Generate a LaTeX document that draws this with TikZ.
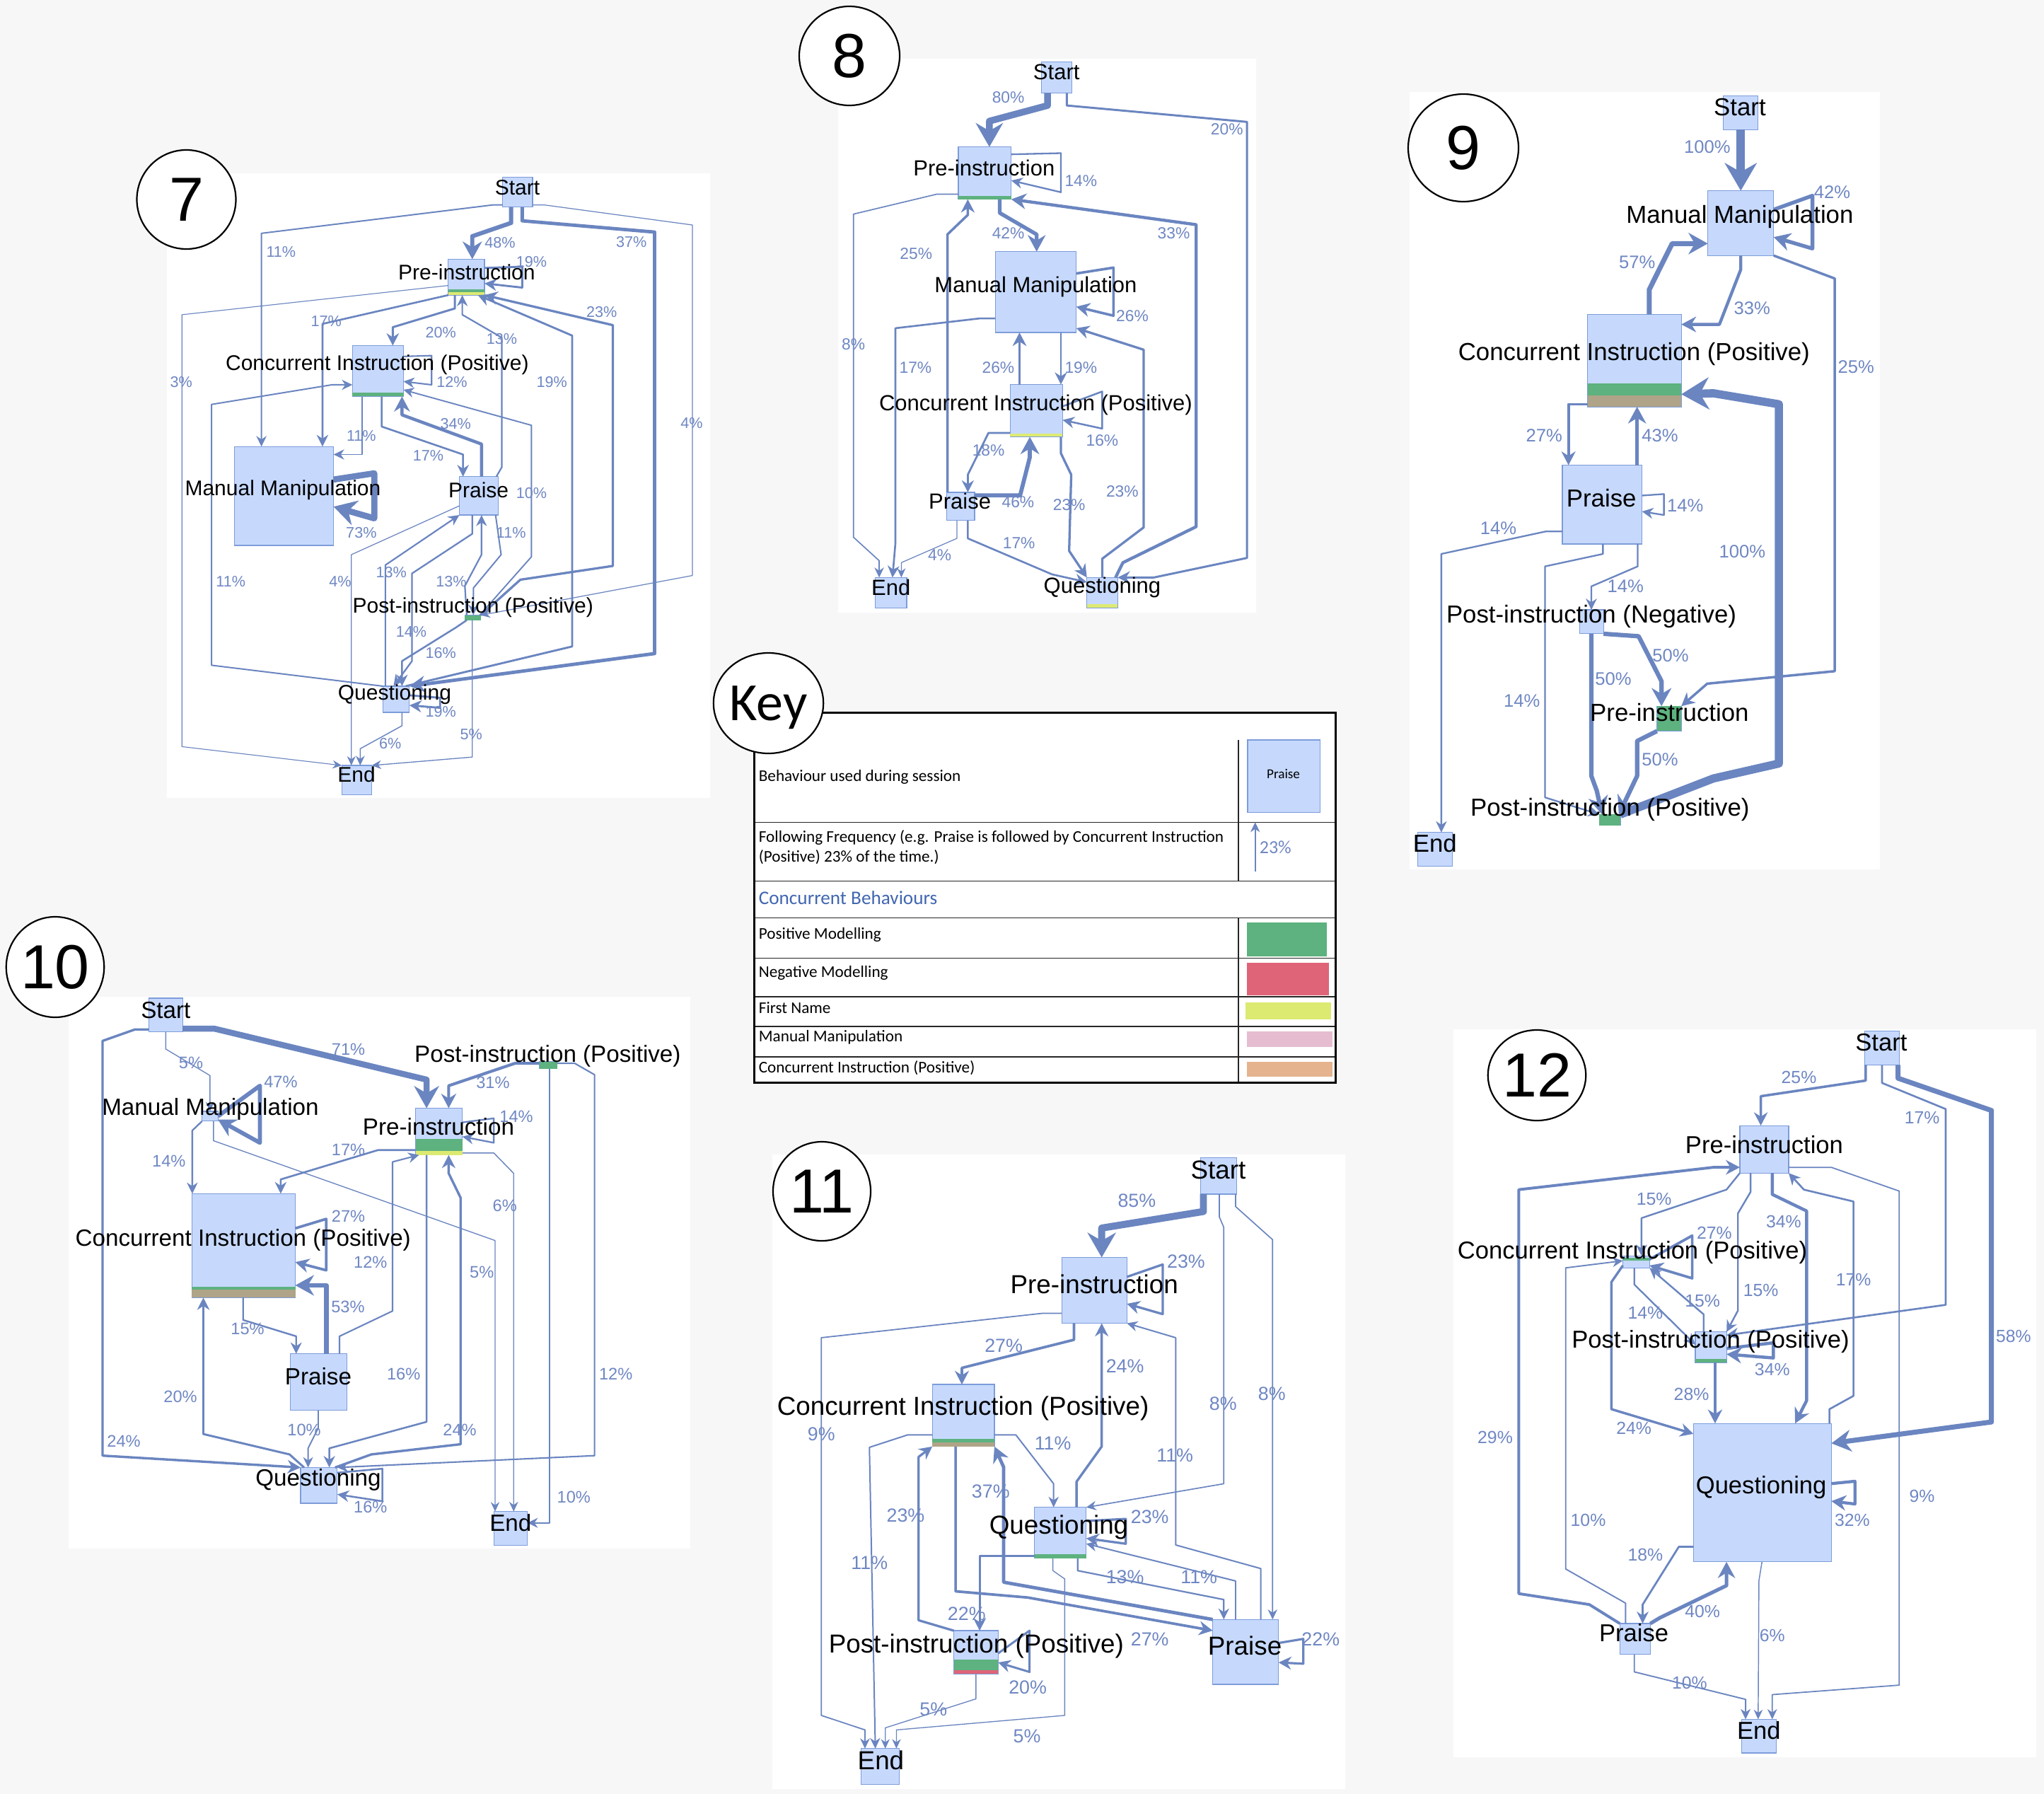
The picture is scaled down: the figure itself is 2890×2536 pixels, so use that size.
\documentclass[tikz,border=0pt]{standalone}
\usepackage{fontspec}
\setmainfont{Liberation Sans}
\newfontfamily\keyfont{Carlito}
\usetikzlibrary{arrows.meta,shapes.geometric}
\definecolor{bgc}{HTML}{F7F7F7}
\definecolor{boxfill}{HTML}{C6D9FD}
\definecolor{boxline}{HTML}{7D9CD9}
\definecolor{edgec}{HTML}{6A85C0}
\definecolor{pctc}{HTML}{6F87C3}
\definecolor{posmod}{HTML}{5DB27F}
\definecolor{negmod}{HTML}{DF6478}
\definecolor{fname}{HTML}{DDEA72}
\definecolor{mmpink}{HTML}{E6BDD0}
\definecolor{citan}{HTML}{E5B38E}
\definecolor{citanmix}{HTML}{AFA487}
\definecolor{keyblue}{HTML}{4166B0}

% behaviour box given by its corners (x1,y1,x2,y2) in the local grid
\newcommand\mkbox[5]{\node[box,minimum width={(#4-#2)*\sx*1pt},minimum height={(#5-#3)*\sy*1pt}] (#1) at ({(#2+#4)/2},{(#3+#5)/2}) {};}
% coloured band across a box between two heights
\newcommand\mkband[4]{\fill[#2] (#1.west |- 0,#3) rectangle (#1.east |- 0,#4);}
% plain colour swatch
\newcommand\mksw[6]{\node[fill=#2,inner sep=0pt,outer sep=0pt,minimum width={(#5-#3)*\sx*1pt},minimum height={(#6-#4)*\sy*1pt}] (#1) at ({(#3+#5)/2},{(#4+#6)/2}) {};}
\newcounter{pcn}
\newcommand\pctlbl[3]{\stepcounter{pcn}\node[pct] (pct\arabic{pcn}) at (#1,#2) {#3\%};}
\newcommand\boxlbl[4]{\node[lab] (#1) at (#2,#3) {#4};}

\tikzset{
  box/.style={draw=boxline,fill=boxfill,line width=0.3pt,inner sep=0pt,outer sep=0pt},
  conn/.style={draw=edgec,line join=round,-{Stealth[length=2.5pt 2.5,width=2pt 3.2]}},
  pw/.style={line width={(0.2+0.027*#1)*1pt}},
  lab/.style={inner sep=0pt,text=black},
  pct/.style={inner sep=0pt,text=pctc},
  keyt/.style={inner sep=0pt,anchor=west,text=black,font=\keyfont\fontsize{5.8}{7}\selectfont},
  numc/.style={ellipse,draw=black,fill=white,line width=0.55pt,inner sep=0pt,font=\fontsize{22}{22}\selectfont},
  panel/.style={fill=white},
}

\begin{document}
\begin{tikzpicture}[x=0.25pt,y=-0.25pt]
\fill[bgc] (0,0) rectangle (2890,2536);
\useasboundingbox (0,0) rectangle (2890,2536);

% white panels behind the six session graphs
\fill[panel] (236,245) rectangle (1004,1128);
\fill[panel] (1185,83) rectangle (1776,866);
\fill[panel] (1993,130) rectangle (2658,1229);
\fill[panel] (97,1409) rectangle (976,2189);
\fill[panel] (1092,1632) rectangle (1902,2529);
\fill[panel] (2055,1455) rectangle (2879,2484);

% ---------------- Session 7 ----------------
\begin{scope}[shift={(184,203)},xscale=0.52296,yscale=0.58992,
  lab/.append style={font=\fontsize{7.5}{9}\selectfont},
  pct/.append style={font=\fontsize{5.4}{6.5}\selectfont}]
\def\sx{0.13074}\def\sy{0.14748}
\mkbox{s7}{1007}{80}{1088}{152}
\mkbox{p7}{860}{277}{958}{363} \mkband{p7}{posmod}{349}{356} \mkband{p7}{fname}{356}{363}
\mkbox{c7}{601}{484}{739}{606} \mkband{c7}{posmod}{597}{606}
\mkbox{m7}{282}{726}{550}{963}
\mkbox{r7}{890}{798}{996}{890}
\mkbox{o7}{905}{1130}{948}{1142} \mkband{o7}{posmod}{1130}{1142}
\mkbox{q7}{683}{1300}{755}{1363}
\mkbox{e7}{572}{1490}{653}{1560}

\draw[conn,pw=48] (s7.south -| 1030,0) -- (1030,190) -- (925,222) -- (p7.north -| 925,0);
\draw[conn,pw=37] (s7.south -| 1060,0) -- (1060,185) -- (1418,212) -- (1418,1222) -- (q7.north east);
\draw[conn,pw=11] (s7.west |- 0,147) -- (980,147) -- (355,215) -- (m7.north -| 355,0);
\draw[conn,pw=4] (s7.east |- 0,147) -- (1120,147) -- (1520,195) -- (1520,1035) -- (o7.north east);
\draw[conn,pw=3] (p7.west |- 0,340) -- (140,410) -- (140,1445) -- (e7.north west);
\draw[conn,pw=19] (p7.east |- 0,298) -- (1060,295) -- (1060,345) -- (p7.east |- 0,335);
\draw[conn,pw=17] (p7.south west) -- (520,432) -- (m7.north -| 520,0);
\draw[conn,pw=20] (p7.south -| 878,0) -- (878,395) -- (710,440) -- (c7.north -| 710,0);
\draw[conn,pw=13] (r7.north -| 990,0) -- (1005,775) -- (1005,465) -- (898,410) -- (p7.south -| 898,0);
\draw[conn,pw=19] (q7.north -| 745,0) -- (1195,1205) -- (1195,460) -- (p7.south -| 940,0);
\draw[conn,pw=23] (o7.north east) -- (1055,1045) -- (1305,1012) -- (1305,435) -- (p7.south east);
\draw[conn,pw=12] (c7.east |- 0,510) -- (815,508) -- (815,578) -- (c7.east |- 0,570);
\draw[conn,pw=11] (c7.south -| 627,0) -- (627,745) -- (m7.east |- 0,745);
\draw[conn,pw=17] (c7.south -| 680,0) -- (680,678) -- (900,745) -- (r7.north -| 900,0);
\draw[conn,pw=34] (r7.north -| 950,0) -- (950,720) -- (735,650) -- (c7.south -| 735,0);
\draw[conn,pw=73] (m7.east |- 0,805) -- (660,790) -- (660,898) -- (m7.east |- 0,870);
\draw[conn,pw=10] (o7.north -| 945,0) -- (1085,990) -- (1085,675) -- (c7.east |- 0,590);
\draw[conn,pw=11] (q7.north west) -- (220,1250) -- (220,625) -- (545,578) -- (c7.west |- 0,578);
\draw[conn,pw=4] (r7.west |- 0,868) -- (598,985) -- (e7.north -| 598,0);
\draw[conn,pw=13] (q7.north -| 690,0) -- (690,1010) -- (r7.south west);
\draw[conn,pw=14] (r7.south -| 925,0) -- (925,935) -- (762,1030) -- (762,1240) -- (q7.north -| 712,0);
\draw[conn,pw=13] (o7.north -| 910,0) -- (905,1060) -- (950,985) -- (r7.south -| 950,0);
\draw[conn,pw=11] (r7.south -| 988,0) -- (1003,985) -- (928,1065) -- (o7.north -| 928,0);
\draw[conn,pw=16] (o7.south -| 910,0) -- (880,1160) -- (735,1240) -- (q7.north -| 735,0);
\draw[conn,pw=19] (q7.east |- 0,1322) -- (838,1328) -- (838,1352) -- (q7.east |- 0,1346);
\draw[conn,pw=6] (q7.south -| 735,0) -- (735,1395) -- (622,1450) -- (e7.north -| 622,0);
\draw[conn,pw=5] (o7.south -| 925,0) -- (925,1470) -- (e7.north east);

\pctlbl{1000}{237}{48} \pctlbl{1355}{235}{37} \pctlbl{408}{260}{11} \pctlbl{1518}{670}{4}
\pctlbl{138}{572}{3} \pctlbl{1085}{283}{19} \pctlbl{530}{425}{17} \pctlbl{840}{452}{20}
\pctlbl{1005}{468}{13} \pctlbl{1140}{572}{19} \pctlbl{1275}{403}{23} \pctlbl{870}{572}{12}
\pctlbl{625}{700}{11} \pctlbl{806}{748}{17} \pctlbl{880}{672}{34} \pctlbl{625}{932}{73}
\pctlbl{1085}{838}{10} \pctlbl{272}{1050}{11} \pctlbl{568}{1050}{4} \pctlbl{706}{1027}{13}
\pctlbl{760}{1170}{14} \pctlbl{868}{1050}{13} \pctlbl{1030}{932}{11} \pctlbl{840}{1220}{16}
\pctlbl{840}{1362}{19} \pctlbl{703}{1437}{6} \pctlbl{922}{1415}{5}

\boxlbl{s7t}{1047}{105}{Start}
\boxlbl{p7t}{910}{308}{Pre-instruction}
\boxlbl{c7t}{668}{530}{Concurrent Instruction (Positive)}
\boxlbl{m7t}{413}{830}{Manual Manipulation}
\boxlbl{r7t}{942}{830}{Praise}
\boxlbl{o7t}{927}{1112}{Post-instruction (Positive)}
\boxlbl{q7t}{715}{1320}{Questioning}
\boxlbl{e7t}{612}{1512}{End}
\end{scope}

% ---------------- Session 8 ----------------
\begin{scope}[shift={(1124,0)},xscale=0.41773,yscale=0.55230,
  lab/.append style={font=\fontsize{7.75}{9}\selectfont},
  pct/.append style={font=\fontsize{5.7}{7}\selectfont}]
\def\sx{0.10443}\def\sy{0.13808}
\mkbox{s8}{835}{158}{938}{238}
\mkbox{p8}{553}{376}{732}{510} \mkband{p8}{posmod}{502}{510}
\mkbox{m8}{678}{644}{952}{851}
\mkbox{c8}{728}{984}{906}{1118} \mkband{c8}{fname}{1110}{1118}
\mkbox{r8}{514}{1260}{608}{1332}
\mkbox{e8}{272}{1478}{378}{1556}
\mkbox{q8}{988}{1478}{1092}{1556} \mkband{q8}{fname}{1546}{1556}

\draw[conn,pw=80] (s8.south -| 855,0) -- (855,270) -- (658,310) -- (p8.north -| 658,0);
\draw[conn,pw=20] (s8.south -| 920,0) -- (920,270) -- (1530,312) -- (1530,1428) -- (1215,1478) -- (q8.north east);
\draw[conn,pw=14] (p8.east |- 0,395) -- (900,392) -- (900,492) -- (p8.east |- 0,462);
\draw[conn,pw=42] (p8.south -| 693,0) -- (693,545) -- (818,600) -- (m8.north -| 818,0);
\draw[conn,pw=8] (p8.west |- 0,497) -- (480,497) -- (198,548) -- (198,1375) -- (285,1435) -- (e8.north -| 285,0);
\draw[conn,pw=25] (r8.north -| 516,0) -- (516,600) -- (585,550) -- (p8.south -| 585,0);
\draw[conn,pw=33] (q8.north -| 1085,0) -- (1110,1440) -- (1358,1348) -- (1358,575) -- (p8.south east);
\draw[conn,pw=26] (m8.east |- 0,700) -- (1078,685) -- (1078,808) -- (m8.east |- 0,785);
\draw[conn,pw=17] (m8.west |- 0,815) -- (625,815) -- (340,840) -- (340,1390) -- (e8.north -| 330,0);
\draw[conn,pw=26] (c8.north -| 760,0) -- (m8.south -| 760,0);
\draw[conn,pw=19] (m8.south -| 900,0) -- (c8.north -| 900,0);
\draw[conn,pw=16] (c8.east |- 0,1040) -- (1040,1002) -- (1040,1097) -- (c8.east |- 0,1075);
\draw[conn,pw=18] (c8.west |- 0,1108) -- (655,1108) -- (585,1215) -- (r8.north -| 585,0);
\draw[conn,pw=46] (r8.east |- 0,1268) -- (762,1268) -- (795,1170) -- (c8.south -| 795,0);
\draw[conn,pw=23] (c8.south -| 900,0) -- (900,1160) -- (935,1215) -- (928,1410) -- (q8.north west);
\draw[conn,pw=23] (q8.north -| 1040,0) -- (1040,1430) -- (1180,1350) -- (1180,895) -- (m8.east |- 0,840);
\draw[conn,pw=17] (r8.south -| 585,0) -- (585,1378) -- (870,1470) -- (q8.west |- 0,1490);
\draw[conn,pw=4] (r8.south -| 548,0) -- (548,1378) -- (360,1440) -- (e8.north -| 360,0);

\pctlbl{722}{250}{80} \pctlbl{1462}{330}{20} \pctlbl{968}{462}{14} \pctlbl{722}{597}{42}
\pctlbl{198}{882}{8} \pctlbl{410}{650}{25} \pctlbl{1282}{597}{33} \pctlbl{1142}{808}{26}
\pctlbl{408}{940}{17} \pctlbl{688}{940}{26} \pctlbl{968}{940}{19} \pctlbl{1040}{1127}{16}
\pctlbl{655}{1153}{18} \pctlbl{755}{1285}{46} \pctlbl{928}{1293}{23} \pctlbl{1108}{1258}{23}
\pctlbl{758}{1390}{17} \pctlbl{490}{1420}{4}

\boxlbl{s8t}{885}{185}{Start}
\boxlbl{p8t}{640}{430}{Pre-instruction}
\boxlbl{m8t}{815}{735}{Manual Manipulation}
\boxlbl{c8t}{815}{1037}{Concurrent Instruction (Positive)}
\boxlbl{r8t}{558}{1283}{Praise}
\boxlbl{e8t}{325}{1503}{End}
\boxlbl{q8t}{1040}{1503}{Questioning}
\end{scope}

% ---------------- Session 9 ----------------
\begin{scope}[shift={(1987,120)},xscale=0.43112,yscale=0.70536,
  lab/.append style={font=\fontsize{8.7}{10}\selectfont},
  pct/.append style={font=\fontsize{6.4}{7.5}\selectfont}]
\def\sx{0.10778}\def\sy{0.17634}
\mkbox{s9}{1042}{22}{1156}{90}
\mkbox{m9}{992}{212}{1208}{342}
\mkbox{c9}{598}{460}{905}{645} \mkband{c9}{posmod}{598}{622} \mkband{c9}{citanmix}{622}{645}
\mkbox{r9}{515}{762}{776}{920}
\mkbox{n9}{572}{1052}{650}{1100}
\mkbox{p9}{825}{1245}{905}{1295} \mkband{p9}{posmod}{1245}{1295}
\mkbox{o9}{636}{1462}{705}{1484} \mkband{o9}{posmod}{1462}{1484}
\mkbox{e9}{40}{1498}{155}{1566}

\draw[conn,pw=100] (s9.south -| 1100,0) -- (m9.north -| 1100,0);
\draw[conn,pw=42] (m9.east |- 0,250) -- (1335,222) -- (1335,328) -- (m9.east |- 0,305);
\draw[conn,pw=57] (c9.north -| 800,0) -- (800,410) -- (875,318) -- (m9.west |- 0,318);
\draw[conn,pw=33] (m9.south -| 1100,0) -- (1100,370) -- (1030,480) -- (c9.east |- 0,480);
\draw[conn,pw=25] (m9.south east) -- (1408,388) -- (1408,1175) -- (990,1200) -- (p9.north east);
\draw[conn,pw=27] (c9.west |- 0,640) -- (535,640) -- (r9.north -| 535,0);
\draw[conn,pw=43] (r9.north -| 760,0) -- (c9.south -| 760,0);
\draw[conn,pw=14] (r9.east |- 0,823) -- (848,820) -- (848,862) -- (r9.east |- 0,855);
\draw[conn,pw=14] (r9.west |- 0,895) -- (460,895) -- (118,940) -- (e9.north -| 118,0);
\draw[conn,pw=14] (r9.south -| 648,0) -- (648,940) -- (458,965) -- (458,1428) -- (o9.north west);
\draw[conn,pw=14] (r9.south -| 762,0) -- (762,965) -- (610,1005) -- (n9.north -| 610,0);
\draw[conn,pw=50] (n9.south east) -- (765,1105) -- (840,1195) -- (p9.north -| 840,0);
\draw[conn,pw=50] (n9.south -| 610,0) -- (610,1385) -- (628,1415) -- (o9.north -| 645,0);
\draw[conn,pw=50] (p9.south west) -- (760,1315) -- (760,1385) -- (o9.north -| 700,0);
\draw[conn,pw=100] (o9.north east) -- (1010,1390) -- (1225,1360) -- (1225,640) -- (1010,618) -- (c9.east |- 0,620);

\pctlbl{990}{125}{100} \pctlbl{1400}{215}{42} \pctlbl{760}{355}{57} \pctlbl{1137}{448}{33}
\pctlbl{1478}{565}{25} \pctlbl{455}{703}{27} \pctlbl{835}{703}{43} \pctlbl{918}{843}{14}
\pctlbl{305}{888}{14} \pctlbl{382}{1235}{14} \pctlbl{722}{1005}{14} \pctlbl{870}{1143}{50}
\pctlbl{682}{1190}{50} \pctlbl{835}{1352}{50} \pctlbl{1105}{935}{100}

\boxlbl{s9t}{1097}{45}{Start}
\boxlbl{m9t}{1097}{265}{Manual Manipulation}
\boxlbl{c9t}{750}{540}{Concurrent Instruction (Positive)}
\boxlbl{r9t}{643}{828}{Praise}
\boxlbl{n9t}{610}{1065}{Post-instruction (Negative)}
\boxlbl{p9t}{866}{1258}{Pre-instruction}
\boxlbl{o9t}{671}{1452}{Post-instruction (Positive)}
\boxlbl{e9t}{97}{1520}{End}
\end{scope}

% ---------------- Session 10 ----------------
\begin{scope}[shift={(0,1290)},xscale=0.625,yscale=0.57589,
  lab/.append style={font=\fontsize{8.3}{10}\selectfont},
  pct/.append style={font=\fontsize{5.9}{7}\selectfont}]
\def\sx{0.15625}\def\sy{0.14397}
\mkbox{s10}{337}{210}{413}{293}
\mkbox{m10}{457}{488}{493}{512}
\mkbox{p10}{940}{480}{1046}{595} \mkband{p10}{posmod}{555}{585} \mkband{p10}{fname}{585}{595}
\mkbox{o10}{1220}{366}{1260}{383} \mkband{o10}{posmod}{366}{383}
\mkbox{c10}{434}{690}{668}{945} \mkband{c10}{posmod}{918}{925} \mkband{c10}{citanmix}{925}{945}
\mkbox{r10}{657}{1083}{785}{1222}
\mkbox{q10}{680}{1362}{763}{1450}
\mkbox{e10}{1117}{1470}{1193}{1553}

\draw[conn,pw=71] (s10.east |- 0,285) -- (485,285) -- (965,410) -- (p10.north -| 965,0);
\draw[conn,pw=5] (s10.south -| 375,0) -- (375,335) -- (475,400) -- (m10.north -| 475,0);
\draw[conn,pw=24] (s10.west |- 0,287) -- (305,287) -- (232,315) -- (232,1333) -- (q10.north west);
\draw[conn,pw=47] (m10.east |- 0,500) -- (588,425) -- (588,565) -- (m10.east |- 0,508);
\draw[conn,pw=14] (m10.south west) -- (435,535) -- (c10.north -| 435,0);
\draw[conn,pw=5] (m10.south -| 483,0) -- (483,560) -- (1120,805) -- (e10.north -| 1120,0);
\draw[conn,pw=31] (o10.west |- 0,370) -- (1165,370) -- (1015,425) -- (p10.north -| 1015,0);
\draw[conn,pw=10] (o10.south -| 1243,0) -- (1243,1498) -- (e10.east |- 0,1498);
\draw[conn,pw=12] (o10.east |- 0,370) -- (1300,370) -- (1345,398) -- (1345,1333) -- (q10.north east);
\draw[conn,pw=14] (p10.east |- 0,515) -- (1117,505) -- (1117,565) -- (p10.east |- 0,550);
\draw[conn,pw=17] (p10.west |- 0,583) -- (855,583) -- (635,655) -- (c10.north -| 635,0);
\draw[conn,pw=16] (p10.south -| 965,0) -- (965,1250) -- (745,1315) -- (q10.north -| 745,0);
\draw[conn,pw=6] (p10.east |- 0,590) -- (1117,590) -- (1162,640) -- (e10.north -| 1162,0);
\draw[conn,pw=12] (r10.north -| 768,0) -- (768,1040) -- (888,978) -- (888,612) -- (p10.south -| 948,0);
\draw[conn,pw=27] (c10.east |- 0,775) -- (738,752) -- (738,878) -- (c10.east |- 0,858);
\draw[conn,pw=15] (c10.south -| 550,0) -- (550,1000) -- (670,1040) -- (r10.north -| 670,0);
\draw[conn,pw=53] (r10.north -| 738,0) -- (738,915) -- (c10.east |- 0,915);
\draw[conn,pw=10] (r10.south -| 720,0) -- (720,1265) -- (697,1315) -- (q10.north -| 697,0);
\draw[conn,pw=20] (q10.north -| 688,0) -- (655,1330) -- (460,1280) -- (c10.south -| 460,0);
\draw[conn,pw=24] (q10.north -| 758,0) -- (840,1330) -- (1042,1305) -- (1042,700) -- (1015,640) -- (p10.south -| 1015,0);
\draw[conn,pw=16] (q10.east |- 0,1375) -- (865,1365) -- (865,1445) -- (q10.east |- 0,1428);

\pctlbl{788}{335}{71} \pctlbl{432}{368}{5} \pctlbl{280}{1298}{24} \pctlbl{635}{415}{47}
\pctlbl{382}{610}{14} \pctlbl{1090}{883}{5} \pctlbl{1115}{418}{31} \pctlbl{1298}{1435}{10}
\pctlbl{1393}{1133}{12} \pctlbl{1168}{500}{14} \pctlbl{788}{582}{17} \pctlbl{913}{1133}{16}
\pctlbl{1142}{720}{6} \pctlbl{838}{858}{12} \pctlbl{788}{745}{27} \pctlbl{560}{1022}{15}
\pctlbl{787}{968}{53} \pctlbl{688}{1270}{10} \pctlbl{408}{1188}{20} \pctlbl{1040}{1270}{24}
\pctlbl{838}{1460}{16}

\boxlbl{s10t}{375}{240}{Start}
\boxlbl{m10t}{476}{482}{Manual Manipulation}
\boxlbl{p10t}{992}{525}{Pre-instruction}
\boxlbl{o10t}{1239}{352}{Post-instruction (Positive)}
\boxlbl{c10t}{550}{803}{Concurrent Instruction (Positive)}
\boxlbl{r10t}{720}{1138}{Praise}
\boxlbl{q10t}{720}{1393}{Questioning}
\boxlbl{e10t}{1155}{1498}{End}
\end{scope}

% ---------------- Session 11 ----------------
\begin{scope}[shift={(1087,1612)},xscale=0.52296,yscale=0.58482,
  lab/.append style={font=\fontsize{9.2}{11}\selectfont},
  pct/.append style={font=\fontsize{6.7}{8}\selectfont}]
\def\sx{0.13074}\def\sy{0.14621}
\mkbox{s11}{1168}{42}{1265}{130}
\mkbox{p11}{792}{283}{968}{442}
\mkbox{c11}{442}{590}{610}{740} \mkband{c11}{posmod}{722}{730} \mkband{c11}{citanmix}{730}{740}
\mkbox{q11}{718}{887}{858}{1010} \mkband{q11}{posmod}{1000}{1010}
\mkbox{o11}{500}{1185}{620}{1290} \mkband{o11}{posmod}{1255}{1280} \mkband{o11}{negmod}{1280}{1290}
\mkbox{r11}{1200}{1158}{1378}{1315}
\mkbox{e11}{250}{1470}{353}{1557}

\draw[conn,pw=85] (s11.south -| 1175,0) -- (1175,172) -- (900,212) -- (p11.north -| 900,0);
\draw[conn,pw=8] (s11.south -| 1218,0) -- (1218,185) -- (1230,210) -- (1230,830) -- (q11.north east);
\draw[conn,pw=8] (s11.south -| 1262,0) -- (1262,160) -- (1362,240) -- (r11.north -| 1362,0);
\draw[conn,pw=23] (p11.east |- 0,330) -- (1065,300) -- (1065,420) -- (p11.east |- 0,395);
\draw[conn,pw=27] (p11.south -| 825,0) -- (825,482) -- (522,550) -- (c11.north -| 522,0);
\draw[conn,pw=9] (p11.west |- 0,418) -- (740,418) -- (142,477) -- (142,1390) -- (260,1425) -- (e11.north -| 260,0);
\draw[conn,pw=24] (q11.north -| 832,0) -- (832,825) -- (900,740) -- (p11.south -| 900,0);
\draw[conn,pw=11] (r11.north -| 1330,0) -- (1330,1035) -- (1100,978) -- (1100,477) -- (p11.south east);
\draw[conn,pw=11] (c11.east |- 0,712) -- (668,712) -- (770,830) -- (q11.north -| 770,0);
\draw[conn,pw=11] (c11.west |- 0,712) -- (375,712) -- (272,742) -- (e11.north -| 288,0);
\draw[conn,pw=27] (c11.south -| 505,0) -- (505,1090) -- (700,1105) -- (r11.west |- 0,1185);
\draw[conn,pw=23] (o11.north west) -- (405,1160) -- (405,765) -- (c11.south -| 442,0);
\draw[conn,pw=37] (r11.north west) -- (635,1068) -- (635,790) -- (c11.south east);
\draw[conn,pw=23] (q11.east |- 0,920) -- (965,915) -- (965,975) -- (q11.east |- 0,962);
\draw[conn,pw=22] (q11.west |- 0,1005) -- (570,1005) -- (o11.north -| 570,0);
\draw[conn,pw=13] (q11.south -| 835,0) -- (835,1040) -- (1230,1110) -- (r11.north -| 1230,0);
\draw[conn,pw=11] (r11.north -| 1262,0) -- (1262,1065) -- (q11.east |- 0,975);
\draw[conn,pw=20] (o11.east |- 0,1240) -- (705,1185) -- (705,1285) -- (o11.east |- 0,1262);
\draw[conn,pw=5] (o11.south -| 560,0) -- (560,1350) -- (315,1420) -- (e11.north -| 315,0);
\draw[conn,pw=5] (q11.south -| 768,0) -- (768,1040) -- (800,1060) -- (800,1390) -- (345,1425) -- (e11.north -| 345,0);
\draw[conn,pw=22] (r11.east |- 0,1215) -- (1445,1205) -- (1445,1265) -- (r11.east |- 0,1262);

\pctlbl{995}{145}{85} \pctlbl{1228}{637}{8} \pctlbl{1360}{612}{8} \pctlbl{1128}{292}{23}
\pctlbl{635}{497}{27} \pctlbl{142}{710}{9} \pctlbl{963}{545}{24} \pctlbl{1098}{762}{11}
\pctlbl{768}{733}{11} \pctlbl{272}{1022}{11} \pctlbl{1030}{1205}{27} \pctlbl{370}{907}{23}
\pctlbl{600}{848}{37} \pctlbl{1030}{910}{23} \pctlbl{535}{1145}{22} \pctlbl{963}{1055}{13}
\pctlbl{1163}{1055}{11} \pctlbl{700}{1322}{20} \pctlbl{445}{1375}{5} \pctlbl{698}{1440}{5}
\pctlbl{1492}{1205}{22}

\boxlbl{s11t}{1215}{72}{Start}
\boxlbl{p11t}{880}{348}{Pre-instruction}
\boxlbl{c11t}{525}{648}{Concurrent Instruction (Positive)}
\boxlbl{q11t}{784}{935}{Questioning}
\boxlbl{o11t}{561}{1222}{Post-instruction (Positive)}
\boxlbl{r11t}{1287}{1222}{Praise}
\boxlbl{e11t}{303}{1498}{End}
\end{scope}

% ---------------- Session 12 ----------------
\begin{scope}[shift={(2045,1437)},xscale=0.53890,yscale=0.67028,
  lab/.append style={font=\fontsize{8.65}{10}\selectfont},
  pct/.append style={font=\fontsize{6.2}{7.5}\selectfont}]
\def\sx{0.13473}\def\sy{0.16757}
\mkbox{s12}{1098}{30}{1188}{102}
\mkbox{p12}{770}{230}{898}{330}
\mkbox{c12}{463}{505}{533}{530} \mkband{c12}{posmod}{508}{515}
\mkbox{o12}{653}{665}{735}{730} \mkband{o12}{posmod}{722}{730}
\mkbox{q12}{648}{858}{1010}{1150}
\mkbox{r12}{455}{1280}{535}{1345}
\mkbox{e12}{775}{1482}{866}{1553}

\draw[conn,pw=25] (s12.south -| 1100,0) -- (1100,135) -- (825,168) -- (p12.north -| 825,0);
\draw[conn,pw=17] (s12.south -| 1143,0) -- (1143,140) -- (1310,195) -- (1310,608) -- (o12.east |- 0,672);
\draw[conn,pw=58] (s12.south -| 1185,0) -- (1185,130) -- (1430,198) -- (1430,855) -- (q12.east |- 0,900);
\draw[conn,pw=15] (p12.south west) -- (735,365) -- (512,425) -- (c12.north -| 512,0);
\draw[conn,pw=15] (p12.south -| 798,0) -- (798,370) -- (765,415) -- (765,620) -- (o12.north east);
\draw[conn,pw=34] (p12.south -| 855,0) -- (855,375) -- (945,410) -- (945,810) -- (q12.north -| 915,0);
\draw[conn,pw=17] (q12.north -| 1005,0) -- (1005,828) -- (1068,800) -- (1068,390) -- (938,365) -- (p12.south east);
\draw[conn,pw=9] (p12.east |- 0,318) -- (1010,318) -- (1188,368) -- (1188,1410) -- (855,1430) -- (e12.north -| 855,0);
\draw[conn,pw=27] (c12.east |- 0,512) -- (645,462) -- (645,552) -- (c12.east |- 0,525);
\draw[conn,pw=14] (c12.south -| 493,0) -- (493,565) -- (o12.west |- 0,692);
\draw[conn,pw=15] (o12.north -| 675,0) -- (675,628) -- (c12.south east);
\draw[conn,pw=24] (c12.west |- 0,525) -- (433,560) -- (433,828) -- (q12.west |- 0,880);
\draw[conn,pw=34] (o12.east |- 0,700) -- (858,688) -- (858,720) -- (o12.east |- 0,712);
\draw[conn,pw=28] (o12.south -| 705,0) -- (q12.north -| 705,0);
\draw[conn,pw=10] (r12.north -| 470,0) -- (470,1237) -- (313,1165) -- (313,530) -- (c12.west |- 0,515);
\draw[conn,pw=29] (r12.north west) -- (375,1240) -- (190,1217) -- (190,365) -- (700,318) -- (p12.west |- 0,318);
\draw[conn,pw=18] (q12.west |- 0,1118) -- (610,1118) -- (515,1240) -- (r12.north -| 515,0);
\draw[conn,pw=40] (r12.north east) -- (560,1268) -- (735,1200) -- (q12.south -| 735,0);
\draw[conn,pw=32] (q12.east |- 0,985) -- (1072,980) -- (1072,1028) -- (q12.east |- 0,1022);
\draw[conn,pw=6] (q12.south -| 828,0) -- (820,1190) -- (e12.north -| 818,0);
\draw[conn,pw=10] (r12.south -| 493,0) -- (493,1382) -- (785,1440) -- (e12.north -| 785,0);

\pctlbl{925}{128}{25} \pctlbl{1248}{213}{17} \pctlbl{1488}{675}{58} \pctlbl{545}{385}{15}
\pctlbl{825}{577}{15} \pctlbl{885}{432}{34} \pctlbl{1068}{555}{17} \pctlbl{1248}{1012}{9}
\pctlbl{703}{457}{27} \pctlbl{522}{625}{14} \pctlbl{672}{600}{15} \pctlbl{492}{868}{24}
\pctlbl{855}{745}{34} \pctlbl{643}{797}{28} \pctlbl{372}{1062}{10} \pctlbl{128}{888}{29}
\pctlbl{522}{1135}{18} \pctlbl{672}{1255}{40} \pctlbl{1065}{1062}{32} \pctlbl{855}{1305}{6}
\pctlbl{638}{1405}{10}

\boxlbl{s12t}{1141}{55}{Start}
\boxlbl{p12t}{834}{270}{Pre-instruction}
\boxlbl{c12t}{488}{497}{Concurrent Instruction (Positive)}
\boxlbl{o12t}{693}{685}{Post-instruction (Positive)}
\boxlbl{q12t}{826}{993}{Questioning}
\boxlbl{r12t}{492}{1300}{Praise}
\boxlbl{e12t}{820}{1505}{End}
\end{scope}

% ---------------- Key table ----------------
\begin{scope}[shift={(1013,921)},xscale=0.5625,yscale=0.39031]
\def\sx{0.140625}\def\sy{0.09758}
\fill[white] (95,222) rectangle (1557,1562);
\draw[line width=0.35pt,black!85]
  (95,618) -- (1557,618) (95,832) -- (1557,832) (95,965) -- (1557,965)
  (95,1110) -- (1557,1110) (95,1250) -- (1557,1250) (95,1358) -- (1557,1358)
  (95,1468) -- (1557,1468) (1312,320) -- (1312,832) (1312,965) -- (1312,1562);
\draw[line width=0.75pt,black] (95,222) rectangle (1557,1562);

\node[keyt] (k1) at (105,455) {Behaviour used during session};
\node[keyt] (k2) at (105,673) {Following Frequency (e.g. Praise is followed by Concurrent Instruction};
\node[keyt] (k3) at (105,745) {(Positive) 23\% of the time.)};
\node[keyt,text=keyblue,font=\keyfont\fontsize{6.8}{8}\selectfont] (k4) at (105,893) {Concurrent Behaviours};
\node[keyt] (k5) at (105,1025) {Positive Modelling};
\node[keyt] (k6) at (105,1165) {Negative Modelling};
\node[keyt] (k7) at (105,1290) {First Name};
\node[keyt] (k8) at (105,1398) {Manual Manipulation};
\node[keyt] (k9) at (105,1507) {Concurrent Instruction (Positive)};

\mkbox{kp}{1335}{320}{1517}{582}
\node[inner sep=0pt,font=\keyfont\fontsize{4.8}{5.5}\selectfont] (kpt) at (1425,442) {Praise};
\coordinate (ka) at (1354,797);
\coordinate (kb) at (1354,618);
\draw[conn,pw=8] (ka) -- (kb);
\node[pct,font=\keyfont\fontsize{6.5}{7.5}\selectfont] (kpc) at (1405,710) {23\%};
\mksw{kg}{posmod}{1333}{980}{1535}{1103}
\mksw{kr}{negmod}{1333}{1127}{1540}{1245}
\mksw{ky}{fname}{1330}{1270}{1545}{1333}
\mksw{kk}{mmpink}{1333}{1377}{1548}{1433}
\mksw{kt}{citan}{1333}{1485}{1548}{1540}
\end{scope}

% ---------------- session number circles ----------------
\node[numc,minimum width=35pt,minimum height=35pt] (n7) at (263.5,282) {7};
\node[numc,minimum width=35.5pt,minimum height=35pt] (n8) at (1201,79) {8};
\node[numc,minimum width=39pt,minimum height=38pt] (n9) at (2069,209) {9};
\node[numc,minimum width=34.5pt,minimum height=35.5pt] (n10) at (78,1367) {10};
\node[numc,minimum width=34.5pt,minimum height=35pt] (n11) at (1162,1684) {11};
\node[numc,minimum width=33pt,minimum height=32pt] (n12) at (2173,1520) {12};
\node[numc,minimum width=35.5pt,minimum height=35.5pt,text depth=0pt,font=\keyfont\fontsize{19}{19}\selectfont] (nkey) at (1086.5,994) {Key};
\end{tikzpicture}
\end{document}
